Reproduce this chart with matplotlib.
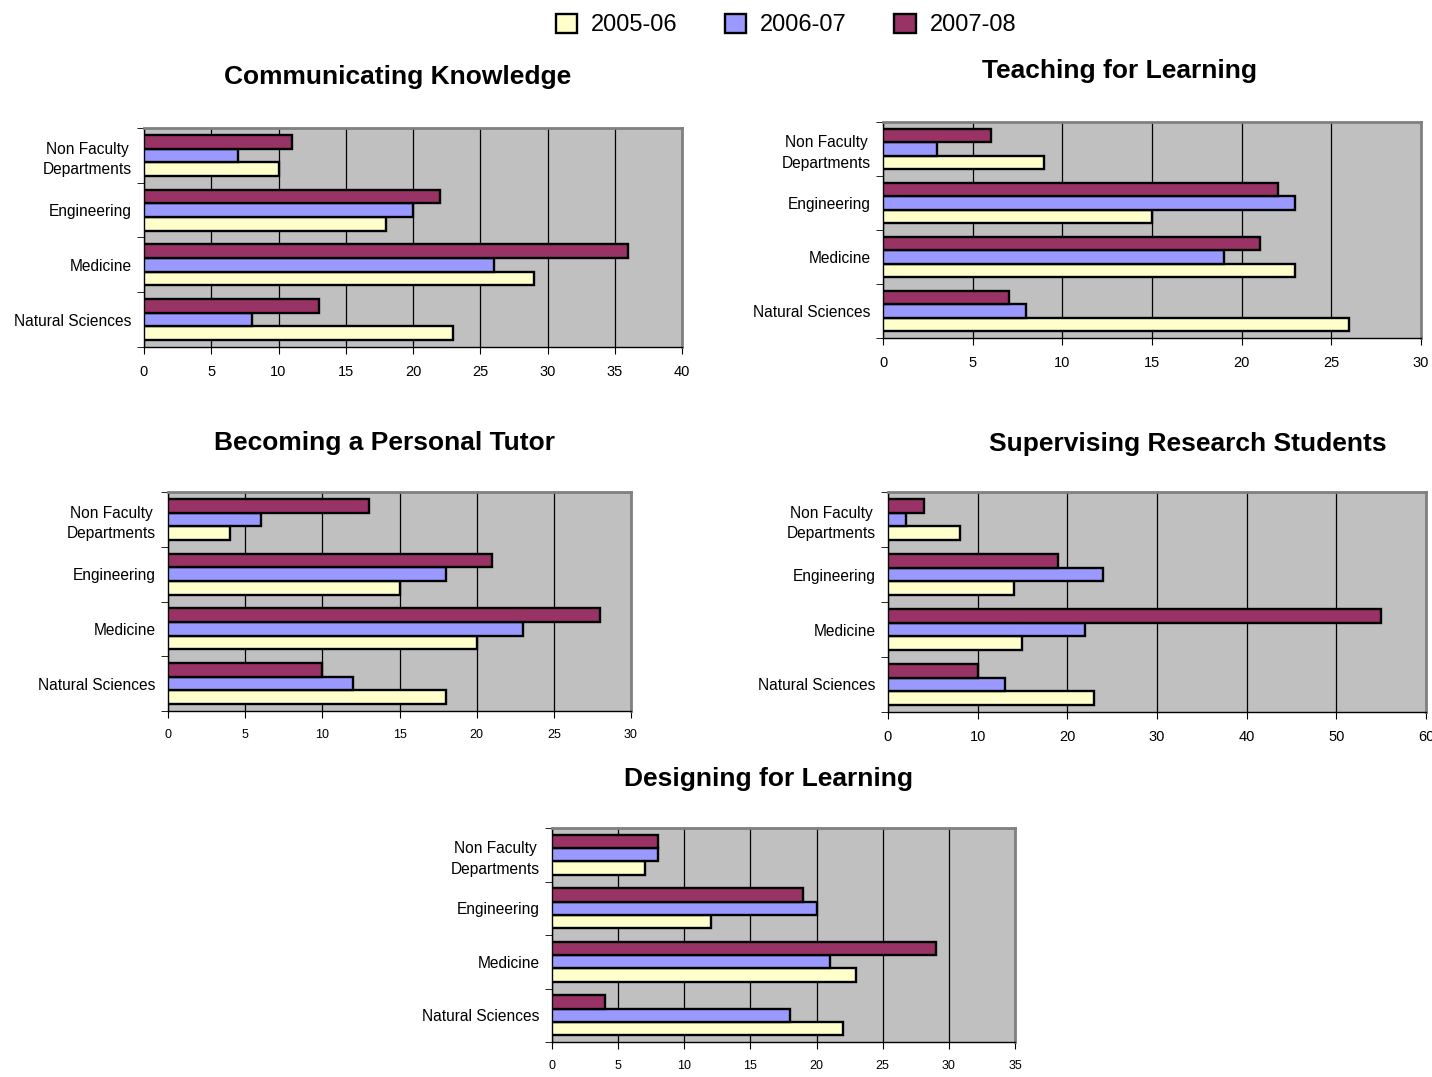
import matplotlib
matplotlib.use("Agg")
import matplotlib.pyplot as plt
import numpy as np
from matplotlib.ticker import FixedLocator

plt.rcParams['font.family'] = ['Liberation Sans', 'DejaVu Sans']

W, H = 1432, 1077

# categories, top to bottom
categories = ["Non Faculty\nDepartments", "Engineering", "Medicine", "Natural Sciences"]
years = ["2005-06", "2006-07", "2007-08"]
colors = ["#FFFFCC", "#9999FF", "#993366"]

# values per chart: [2005-06, 2006-07, 2007-08], each list follows categories
ck_0506 = [10, 18, 29, 23]
ck_0607 = [7, 20, 26, 8]
ck_0708 = [11, 22, 36, 13]

tfl_0506 = [9, 15, 23, 26]
tfl_0607 = [3, 23, 19, 8]
tfl_0708 = [6, 22, 21, 7]

pt_0506 = [4, 15, 20, 18]
pt_0607 = [6, 18, 23, 12]
pt_0708 = [13, 21, 28, 10]

srs_0506 = [8, 14, 15, 23]
srs_0607 = [2, 24, 22, 13]
srs_0708 = [4, 19, 55, 10]

dfl_0506 = [7, 12, 23, 22]
dfl_0607 = [8, 20, 21, 18]
dfl_0708 = [8, 19, 29, 4]

fig = plt.figure(figsize=(W / 100, H / 100), dpi=100)


def px_axes(x0, y0, x1, y1):
    return fig.add_axes([x0 / W, 1 - y1 / H, (x1 - x0) / W, (y1 - y0) / H])


def draw_panel(box, title, title_xy, series, xmax, xstep, tick_fs):
    ax = px_axes(*box)
    ax.set_facecolor("#C0C0C0")
    n = len(categories)
    # position 0 is the bottom category
    pos = np.arange(n)[::-1]
    h = 0.25
    offsets = [-h, 0, h]
    bars = []
    for vals, c, off in zip(series, colors, offsets):
        b = ax.barh(pos + off, vals, height=h, color=c, edgecolor="black",
                    linewidth=1.7, zorder=3)
        bars.append(b)
    ax.set_xlim(0, xmax)
    ax.set_ylim(-0.5, n - 0.5)
    ax.set_xticks(np.arange(0, xmax + 0.1, xstep))
    ax.xaxis.grid(True, color="black", linewidth=0.9, zorder=0)
    ax.set_axisbelow(True)
    ax.set_yticks(pos)
    ax.set_yticklabels(categories, fontsize=11.2, multialignment="center",
                       linespacing=1.45)
    ax.tick_params(axis="y", which="major", length=0, pad=9)
    ax.yaxis.set_minor_locator(FixedLocator(np.arange(-0.5, n, 1.0)))
    ax.tick_params(axis="y", which="minor", length=5, direction="out", color="black")
    ax.tick_params(axis="x", length=5, direction="out", labelsize=tick_fs, pad=8)
    for s in ["left", "bottom"]:
        ax.spines[s].set_color("black")
        ax.spines[s].set_linewidth(1.0)
    for s in ["top", "right"]:
        ax.spines[s].set_color("#808080")
        ax.spines[s].set_linewidth(2.0)
    fig.text(title_xy[0] / W, 1 - title_xy[1] / H, title, ha="center", va="center",
             fontsize=19, fontweight="bold")
    return bars


bars = draw_panel((144, 128, 682, 347), "Communicating Knowledge", (398, 77),
                  [ck_0506, ck_0607, ck_0708], 40, 5, 10.5)
draw_panel((883, 122, 1421, 338), "Teaching for Learning", (1120, 71),
           [tfl_0506, tfl_0607, tfl_0708], 30, 5, 10.5)
draw_panel((168, 492, 631, 711), "Becoming a Personal Tutor", (384, 443),
           [pt_0506, pt_0607, pt_0708], 30, 5, 9)
draw_panel((888, 492, 1426, 712), "Supervising Research Students", (1188, 444),
           [srs_0506, srs_0607, srs_0708], 60, 10, 10.5)
draw_panel((552, 828, 1015, 1042), "Designing for Learning", (768, 779),
           [dfl_0506, dfl_0607, dfl_0708], 35, 5, 9)

fig.legend([b[0] for b in bars], years, loc="center", ncol=3,
           bbox_to_anchor=(786 / W, 1 - 25 / H), frameon=False, fontsize=17,
           handlelength=0.9, handleheight=0.9, handletextpad=0.6, columnspacing=2.0)

fig.savefig("out.png", dpi=100)
